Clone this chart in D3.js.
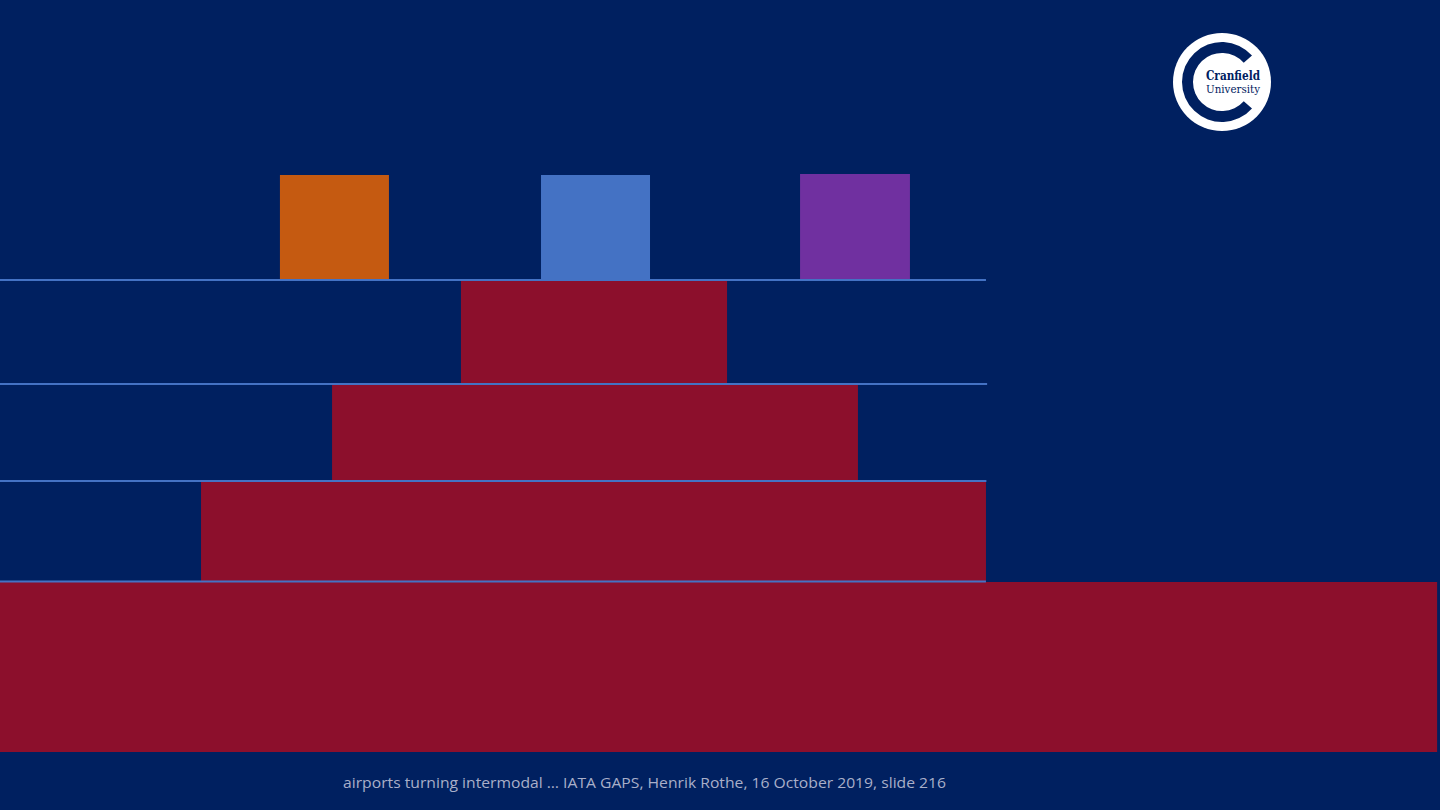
<!DOCTYPE html>
<html>
<head>
<meta charset="utf-8">
<script src="https://cdn.jsdelivr.net/npm/d3@7"></script>
<style>
  html, body { margin: 0; padding: 0; background: #002060; overflow: hidden; }
</style>
</head>
<body>
<div class="slide"></div>
<script>
// pyramid tiers, bottom to top (x in % of slide width, y in level units)
var tierNames = ["base", "tier3", "tier2", "tier1"];
var tierLeft = [0, 13.96, 23.06, 32.01];
var tierRight = [99.8, 68.47, 59.58, 50.49];
var tierLow = [0, 1.71, 2.72, 3.69];
var tierHigh = [1.70, 2.70, 3.67, 4.71];

// coloured blocks on top
var blockNames = ["orange", "blue", "purple"];
var blockLeft = [19.44, 37.57, 55.56];
var blockRight = [27.01, 45.14, 63.19];
var blockLow = [4.73, 4.73, 4.73];
var blockHigh = [5.77, 5.77, 5.78];
var blockColors = ["#C55A11", "#4472C4", "#7030A0"];

// separator lines
var lineLevels = [1.705, 2.71, 3.68, 4.72];
var lineEnd = [68.47, 68.5, 68.55, 68.47];

var footer = "airports turning intermodal \u2026 IATA GAPS, Henrik Rothe, 16 October 2019, slide 216";

var W = 1440, H = 810;
var svgSelection = d3.select(".slide").append("svg")
                     .attr("width", W)
                     .attr("height", H);

svgSelection.append("rect")
            .attr("width", W).attr("height", H)
            .attr("fill", "#002060");

var x = d3.scaleLinear().domain([0, 100]).range([0, W]);
var y = d3.scaleLinear().domain([0, 5.77]).range([752, 175]);

var tiers = tierNames.map(function(n, i) {
  return {name: n, x0: tierLeft[i], x1: tierRight[i], y0: tierLow[i], y1: tierHigh[i]};
});
var blocks = blockNames.map(function(n, i) {
  return {name: n, x0: blockLeft[i], x1: blockRight[i], y0: blockLow[i], y1: blockHigh[i], color: blockColors[i]};
});

svgSelection.append("g").selectAll("rect")
            .data(tiers)
            .join("rect")
            .attr("x", function(d) { return x(d.x0); })
            .attr("y", function(d) { return y(d.y1); })
            .attr("width", function(d) { return x(d.x1) - x(d.x0); })
            .attr("height", function(d) { return y(d.y0) - y(d.y1); })
            .attr("fill", "#8C0F2C");

svgSelection.append("g").selectAll("rect")
            .data(blocks)
            .join("rect")
            .attr("x", function(d) { return x(d.x0); })
            .attr("y", function(d) { return y(d.y1); })
            .attr("width", function(d) { return x(d.x1) - x(d.x0); })
            .attr("height", function(d) { return y(d.y0) - y(d.y1); })
            .attr("fill", function(d) { return d.color; });

svgSelection.append("g").selectAll("line")
            .data(lineLevels)
            .join("line")
            .attr("x1", x(0))
            .attr("x2", function(d, i) { return x(lineEnd[i]); })
            .attr("y1", function(d) { return y(d); })
            .attr("y2", function(d) { return y(d); })
            .attr("stroke", "#4472C4")
            .attr("stroke-width", 2);

// Cranfield logo
var logo = svgSelection.append("g").attr("transform", "translate(1222,82)");
logo.append("circle").attr("r", 49).attr("fill", "#ffffff");
logo.append("path")
    .attr("d", d3.arc()
                 .innerRadius(29)
                 .outerRadius(40)
                 .startAngle(Math.PI * 0.25 - Math.PI * 0.02)
                 .endAngle(Math.PI * 1.75 + Math.PI * 0.02)() )
    .attr("transform", "rotate(90)")
    .attr("fill", "#002060");
logo.append("text")
    .attr("x", 11).attr("y", -2)
    .attr("text-anchor", "middle")
    .attr("font-family", "'DejaVu Serif', serif")
    .attr("font-weight", "bold")
    .attr("font-size", 12)
    .attr("textLength", 54)
    .attr("lengthAdjust", "spacingAndGlyphs")
    .attr("fill", "#002060")
    .text("Cranfield");
logo.append("text")
    .attr("x", 11).attr("y", 11)
    .attr("text-anchor", "middle")
    .attr("font-family", "'DejaVu Serif', serif")
    .attr("font-size", 11)
    .attr("textLength", 54)
    .attr("lengthAdjust", "spacingAndGlyphs")
    .attr("fill", "#002060")
    .text("University");

svgSelection.append("text")
            .attr("x", 644.5)
            .attr("y", 788)
            .attr("text-anchor", "middle")
            .attr("font-family", "'Open Sans', sans-serif")
            .attr("font-size", 15)
            .attr("textLength", 603)
            .attr("lengthAdjust", "spacingAndGlyphs")
            .attr("fill", "#A9AFC9")
            .text(footer);
</script>
</body>
</html>
